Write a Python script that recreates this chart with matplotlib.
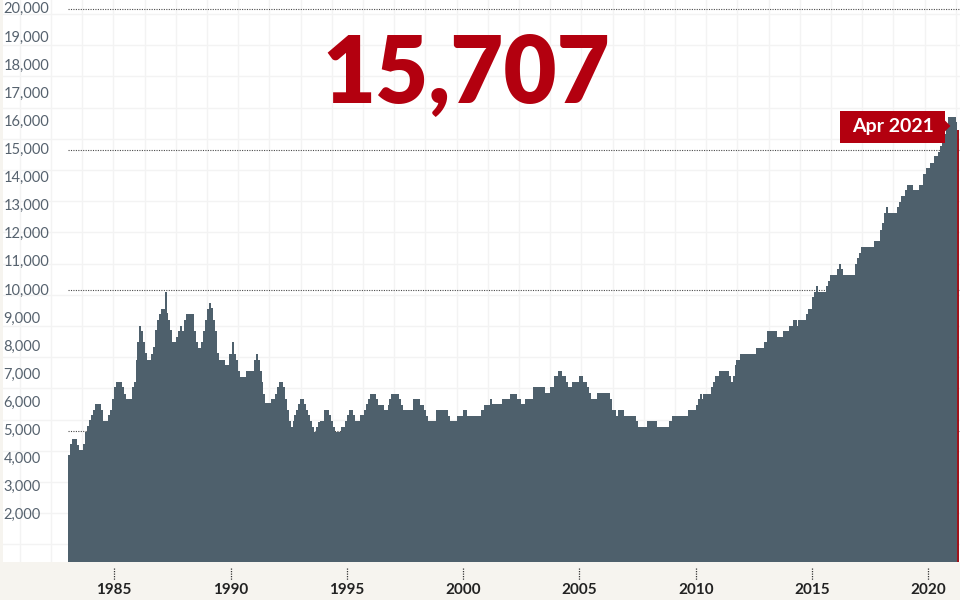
import numpy as np
import matplotlib
matplotlib.use("Agg")
import matplotlib.pyplot as plt
from matplotlib import transforms
from matplotlib.patches import Polygon, Rectangle

# monthly values, Jan 1983 .. Apr 2021 (one row per year)
vals_1980s = [
    4130, 4550, 4730, 4730, 4730, 4500, 4340, 4340, 4550, 4970, 5170, 5380,
    5560, 5760, 5950, 5950, 5950, 5740, 5350, 5350, 5350, 5560, 5760, 6150,
    6550, 6740, 6740, 6740, 6550, 6330, 6140, 6140, 6140, 6550, 6740, 7540,
    8170, 8740, 8550, 8170, 7760, 7540, 7540, 7750, 7990, 8590, 8950, 9160,
    9330, 9330, 9950, 9200, 8950, 8600, 8170, 8170, 8350, 8550, 8740, 8550,
    8950, 9160, 9160, 9160, 9160, 8550, 8170, 7960, 7960, 8170, 8550, 8950,
    9330, 9560, 9360, 8950, 8550, 7760, 7540, 7540, 7540, 7340, 7340, 7730,
]
vals_1990s = [
    7730, 8150, 7730, 7540, 7140, 6920, 6920, 6920, 7140, 7140, 7140, 7140,
    7540, 7730, 7540, 7140, 6750, 6330, 5980, 5980, 5980, 6150, 6150, 6330,
    6550, 6750, 6750, 6550, 6150, 5740, 5360, 5140, 5360, 5560, 5740, 5950,
    6130, 6130, 5950, 5740, 5560, 5360, 5140, 4960, 5140, 5320, 5360, 5360,
    5740, 5740, 5740, 5560, 5360, 5140, 4960, 4960, 4960, 5140, 5140, 5360,
    5560, 5740, 5740, 5560, 5360, 5360, 5360, 5560, 5560, 5740, 5950, 6150,
    6330, 6330, 6330, 6120, 5940, 5940, 5940, 5740, 5740, 5940, 6120, 6330,
    6330, 6330, 6330, 6120, 5940, 5740, 5740, 5740, 5740, 5740, 6120, 6120,
    6120, 6120, 5940, 5940, 5740, 5520, 5350, 5350, 5350, 5350, 5740, 5740,
    5740, 5740, 5740, 5740, 5520, 5350, 5350, 5350, 5350, 5520, 5520, 5520,
]
vals_2000s = [
    5740, 5740, 5520, 5520, 5520, 5520, 5520, 5520, 5520, 5740, 5740, 5940,
    5940, 5940, 6120, 5950, 5950, 5950, 5950, 5950, 6130, 6130, 6130, 6130,
    6330, 6330, 6330, 6330, 6130, 6130, 5950, 5950, 6150, 6150, 6150, 6150,
    6550, 6550, 6550, 6550, 6550, 6550, 6360, 6360, 6360, 6550, 6550, 6950,
    6950, 7130, 7130, 6950, 6950, 6750, 6550, 6550, 6750, 6750, 6750, 6750,
    6950, 6950, 6750, 6750, 6550, 6360, 6150, 6150, 6150, 6360, 6360, 6360,
    6360, 6360, 6360, 6360, 6150, 5740, 5740, 5520, 5740, 5740, 5740, 5520,
    5520, 5520, 5520, 5520, 5520, 5350, 5140, 5140, 5140, 5140, 5140, 5350,
    5350, 5350, 5350, 5350, 5140, 5140, 5140, 5140, 5140, 5140, 5350, 5350,
    5520, 5520, 5520, 5520, 5520, 5520, 5520, 5540, 5740, 5740, 5740, 5740,
]
vals_2010s = [
    5920, 6120, 6330, 6120, 6330, 6330, 6330, 6330, 6550, 6740, 6950, 6950,
    7130, 7130, 7130, 7130, 7130, 6950, 6740, 6950, 7340, 7540, 7540, 7730,
    7730, 7730, 7730, 7730, 7730, 7730, 7730, 7940, 7940, 7940, 7940, 8150,
    8150, 8540, 8540, 8540, 8540, 8540, 8350, 8350, 8350, 8540, 8540, 8540,
    8730, 8730, 8950, 8950, 8730, 8950, 8950, 8950, 8950, 9160, 9350, 9350,
    9780, 9950, 10160, 9950, 9950, 9950, 9950, 10160, 10350, 10550, 10550, 10550,
    10550, 10750, 10930, 10750, 10550, 10550, 10550, 10550, 10550, 10550, 10930, 11140,
    11340, 11560, 11560, 11560, 11560, 11560, 11560, 11560, 11760, 11760, 11760, 12150,
    12390, 12750, 12960, 12750, 12750, 12750, 12750, 12750, 12960, 13160, 13360, 13360,
    13580, 13760, 13760, 13760, 13580, 13580, 13580, 13760, 13760, 14150, 14150, 14350,
]
vals_2020s = [
    14350, 14550, 14550, 14770, 14770, 14940, 15150, 15360, 15570, 15780, 16170, 16170,
    16170, 16170, 15980, 15707,
]

start_year = 1983
last_label = "Apr 2021"
year_ticks = [1985, 1990, 1995, 2000, 2005, 2010, 2015, 2020]
y_labels = list(range(2000, 20001, 1000))
dotted_levels = [5000, 10000, 15000, 20000]

SLATE = "#4e606c"
RED = "#b3000f"
DARK_RED = "#a0141c"
BEIGE = "#f6f4ef"

W, H = 960, 600
X_RIGHT = 2021.36


def build_axes(fig):
    ax = fig.add_axes([3 / W, 38 / H, 957 / W, 562 / H])
    ax.set_facecolor("white")
    ax.set_xlim(1980.22, X_RIGHT)
    ax.set_ylim(338, 20331)
    for s in ax.spines.values():
        s.set_visible(False)

    # faint square background grid (~31px cells)
    for px in np.arange(19.7, W, 31.2):
        xf = (px - 3) / 957
        ax.plot([xf, xf], [0, 1], transform=ax.transAxes, color="#f3f3f3", lw=1, zorder=0)
    for py in np.arange(14, 562, 31.2):
        yf = (562 - py) / 562
        ax.plot([0, 1], [yf, yf], transform=ax.transAxes, color="#f3f3f3", lw=1, zorder=0)
    return ax


def draw_axis_text(ax):
    lab_tr = transforms.blended_transform_factory(ax.transAxes, ax.transData)
    for v in y_labels:
        ax.text(0.6 / 957, v, "{:,}".format(v), transform=lab_tr, ha="left", va="center",
                color="#56626e", fontsize=10.5, family="Lato", zorder=5)

    ax.set_yticks([])
    ax.set_xticks(year_ticks)
    ax.set_xticklabels([str(y) for y in year_ticks], fontsize=11, fontweight="bold",
                       color="#222222", family="Lato")
    ax.tick_params(axis="x", length=0, pad=15)

    tick_tr = transforms.blended_transform_factory(ax.transData, ax.transAxes)
    ax.vlines(year_ticks, -6 / 562, -18 / 562, transform=tick_tr, colors="#333333",
              linestyles=(0, (1, 1)), lw=0.9, clip_on=False)


def plot_series(fig, ax, values):
    edges = start_year + np.arange(len(values) + 1) / 12.0

    ax.hlines(dotted_levels, start_year, X_RIGHT, colors="#4a4a4a",
              linestyles=(0, (1, 1.2)), lw=0.8, zorder=1)

    ax.stairs(values[:-1], edges[:-1], fill=True, color=SLATE, zorder=3)
    ax.stairs(values[-1:], edges[-2:], fill=True, color=DARK_RED, zorder=3)

    # headline with the latest value
    fig.text(466 / W, 1 - 103 / H, "{:,}".format(values[-1]), ha="center", va="baseline",
             fontsize=66, fontweight="heavy", color=RED, family="Lato")

    # callout box pointing to the last month
    fig.canvas.draw()
    tx, ty = ax.transData.transform((edges[-2], values[-1]))
    tx, ty = tx - 7, ty + 4
    box_w, box_h = 105, 32
    rect = Rectangle((tx - 5 - box_w, ty - box_h / 2 - 1), box_w, box_h,
                     transform=transforms.IdentityTransform(), facecolor=RED,
                     edgecolor="none", zorder=6)
    fig.add_artist(rect)
    tri = Polygon([(tx, ty), (tx - 6, ty + 6), (tx - 6, ty - 6)], closed=True,
                  transform=transforms.IdentityTransform(), facecolor=RED,
                  edgecolor="none", zorder=6)
    fig.add_artist(tri)
    fig.text((tx - 5 - box_w / 2) / W, (ty - 1) / H, last_label, ha="center", va="center",
             color="white", fontsize=14, fontweight="bold", family="Lato", zorder=7)


values = vals_1980s + vals_1990s + vals_2000s + vals_2010s + vals_2020s

fig = plt.figure(figsize=(W / 100, H / 100), dpi=100, facecolor=BEIGE)
ax = build_axes(fig)
draw_axis_text(ax)
plot_series(fig, ax, values)
fig.savefig("out.png", dpi=100, facecolor=BEIGE)
